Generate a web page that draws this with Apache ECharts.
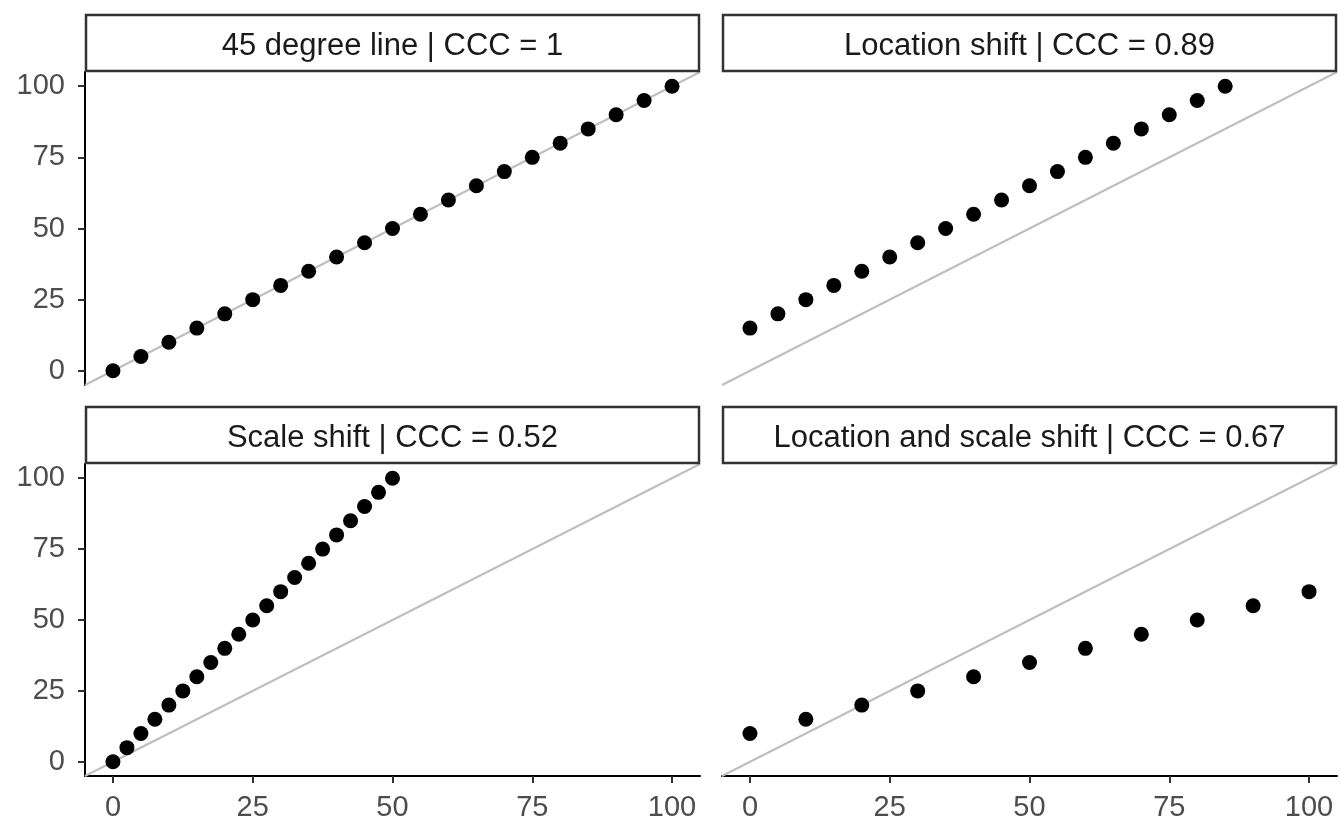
<!DOCTYPE html>
<html>
<head>
    <meta charset="utf-8">
    <title>CCC examples</title>
    <script src="https://cdn.jsdelivr.net/npm/echarts@6/dist/echarts.min.js"></script>
    <style>
        html, body { margin: 0; padding: 0; background: #fff; }
        #main { width: 1341px; height: 822px; }
    </style>
</head>
<body>
<div id="main"></div>
<script>
    // panel titles
    var stripTitles = [
        '45 degree line | CCC = 1',
        'Location shift | CCC = 0.89',
        'Scale shift | CCC = 0.52',
        'Location and scale shift | CCC = 0.67'
    ];
    // tick labels shared by every axis
    var tickValues = [0, 25, 50, 75, 100];
    // ends of the grey 45 degree line
    var lineEnds = [-5, 105];

    // 45 degree line
    var x45 = [0, 5, 10, 15, 20, 25, 30, 35, 40, 45, 50, 55, 60, 65, 70, 75, 80, 85, 90, 95, 100];
    var y45 = [0, 5, 10, 15, 20, 25, 30, 35, 40, 45, 50, 55, 60, 65, 70, 75, 80, 85, 90, 95, 100];
    // location shift
    var xLoc = [0, 5, 10, 15, 20, 25, 30, 35, 40, 45, 50, 55, 60, 65, 70, 75, 80, 85];
    var yLoc = [15, 20, 25, 30, 35, 40, 45, 50, 55, 60, 65, 70, 75, 80, 85, 90, 95, 100];
    // scale shift
    var xScale = [0, 2.5, 5, 7.5, 10, 12.5, 15, 17.5, 20, 22.5, 25, 27.5, 30, 32.5, 35, 37.5, 40, 42.5, 45, 47.5, 50];
    var yScale = [0, 5, 10, 15, 20, 25, 30, 35, 40, 45, 50, 55, 60, 65, 70, 75, 80, 85, 90, 95, 100];
    // location and scale shift
    var xBoth = [0, 10, 20, 30, 40, 50, 60, 70, 80, 90, 100];
    var yBoth = [10, 15, 20, 25, 30, 35, 40, 45, 50, 55, 60];

    var panelX = [x45, xLoc, xScale, xBoth];
    var panelY = [y45, yLoc, yScale, yBoth];

    // layout
    var colLeft = [85, 722];
    var rowTop = [72, 464];
    var panelW = 615, panelH = 313, stripH = 57;
    var font = 'Liberation Sans, Arial, Helvetica, sans-serif';

    function pairs(xs, ys) {
        var out = [];
        for (var i = 0; i < xs.length; i++) out.push([xs[i], ys[i]]);
        return out;
    }

    var grids = [], xAxes = [], yAxes = [], series = [], graphics = [];
    for (var p = 0; p < 4; p++) {
        var col = p % 2, row = Math.floor(p / 2);
        grids.push({ left: colLeft[col], top: rowTop[row], width: panelW, height: panelH });
        xAxes.push({
            gridIndex: p, type: 'value', min: -5, max: 105,
            splitLine: { show: false },
            axisLine: { show: row === 1, onZero: false, lineStyle: { color: '#000', width: 2 } },
            axisTick: { show: row === 1, length: 7, customValues: tickValues, lineStyle: { color: '#333', width: 2 } },
            axisLabel: { show: row === 1, customValues: tickValues, margin: 17, color: '#4d4d4d', fontSize: 29, fontFamily: font }
        });
        yAxes.push({
            gridIndex: p, type: 'value', min: -5, max: 105,
            splitLine: { show: false },
            axisLine: { show: col === 0, onZero: false, lineStyle: { color: '#000', width: 2 } },
            axisTick: { show: col === 0, length: 7, customValues: tickValues, lineStyle: { color: '#333', width: 2 } },
            axisLabel: { show: col === 0, customValues: tickValues, margin: 20, padding: [4, 0, 0, 0], color: '#4d4d4d', fontSize: 29, fontFamily: font }
        });
        series.push({
            type: 'line', xAxisIndex: p, yAxisIndex: p,
            data: [[lineEnds[0], lineEnds[0]], [lineEnds[1], lineEnds[1]]],
            showSymbol: false, silent: true, z: 1,
            lineStyle: { color: '#bebebe', width: 2 }
        });
        series.push({
            type: 'scatter', xAxisIndex: p, yAxisIndex: p,
            data: pairs(panelX[p], panelY[p]),
            symbolSize: 15, z: 3,
            itemStyle: { color: '#000', opacity: 1 }
        });
        // facet strip
        graphics.push({
            type: 'rect', z: 10,
            shape: { x: colLeft[col] + 1, y: rowTop[row] - stripH, width: panelW - 2, height: stripH - 1 },
            style: { fill: '#fff', stroke: '#333', lineWidth: 2.5 }
        });
        graphics.push({
            type: 'text', z: 11,
            x: colLeft[col] + panelW / 2, y: rowTop[row] - stripH / 2 + 3,
            style: { text: stripTitles[p], align: 'center', verticalAlign: 'middle', fill: '#1a1a1a', font: '31px ' + font }
        });
    }

    var myChart = echarts.init(document.getElementById('main'));
    myChart.setOption({
        animation: false,
        backgroundColor: '#fff',
        grid: grids,
        xAxis: xAxes,
        yAxis: yAxes,
        series: series,
        graphic: graphics
    });
</script>
</body>
</html>
